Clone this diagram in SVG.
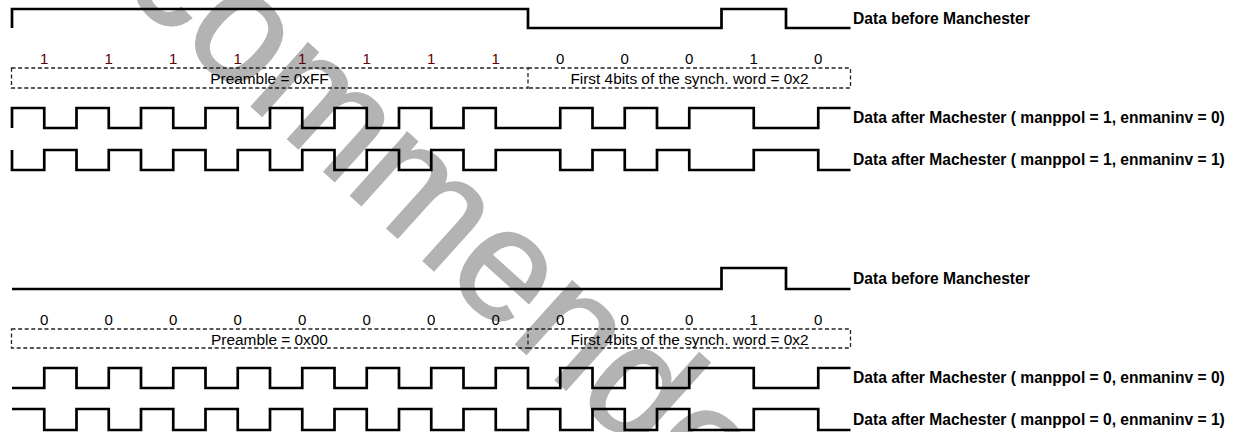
<svg xmlns="http://www.w3.org/2000/svg" width="1236" height="432" viewBox="0 0 1236 432">
<style>
.wave{fill:none;stroke:#000;stroke-width:2.7;stroke-linejoin:miter}
.box{fill:none;stroke:#222;stroke-width:1.3;stroke-dasharray:4 2.6}
.lbl{font-family:"Liberation Sans",Arial,sans-serif;font-weight:bold;font-size:15.6px;fill:#000}
.txt{font-family:"Liberation Sans",Arial,sans-serif;font-size:15.4px;fill:#000;text-anchor:middle}
.bit{font-family:"Liberation Sans",Arial,sans-serif;font-size:15px;fill:#000;text-anchor:middle}
.bit.r{fill:#600000}
.wm{font-family:"Liberation Sans",Arial,sans-serif;font-size:160px;fill:#b3b3b3;stroke:#b3b3b3;stroke-width:2}
</style>
<rect width="1236" height="432" fill="#fff"/>
<text class="wm" transform="translate(118,-14) rotate(42)">commended</text>

<g id="connectors">
<path class="wave" d="M12,28 V9 H528 V28 H721.5 V9 H786 V28 H850.5"/>
<path class="wave" d="M12,128 V108 H44.25 V128 H76.5 V108 H108.75 V128 H141 V108 H173.25 V128 H205.5 V108 H237.75 V128 H270 V108 H302.25 V128 H334.5 V108 H366.75 V128 H399 V108 H431.25 V128 H463.5 V108 H495.75 V128 H560.25 V108 H592.5 V128 H624.75 V108 H657 V128 H689.25 V108 H753.75 V128 H818.25 V108 H850.5"/>
<path class="wave" d="M12,150 V170 H44.25 V150 H76.5 V170 H108.75 V150 H141 V170 H173.25 V150 H205.5 V170 H237.75 V150 H270 V170 H302.25 V150 H334.5 V170 H366.75 V150 H399 V170 H431.25 V150 H463.5 V170 H495.75 V150 H560.25 V170 H592.5 V150 H624.75 V170 H657 V150 H689.25 V170 H753.75 V150 H818.25 V170 H850.5"/>
<path class="wave" d="M12,289 H721.5 V268 H786 V289 H850.5"/>
<path class="wave" d="M12,388 H44.25 V368 H76.5 V388 H108.75 V368 H141 V388 H173.25 V368 H205.5 V388 H237.75 V368 H270 V388 H302.25 V368 H334.5 V388 H366.75 V368 H399 V388 H431.25 V368 H463.5 V388 H495.75 V368 H528 V388 H560.25 V368 H592.5 V388 H624.75 V368 H657 V388 H689.25 V368 H753.75 V388 H818.25 V368 H850.5"/>
<path class="wave" d="M12,409 H44.25 V430 H76.5 V409 H108.75 V430 H141 V409 H173.25 V430 H205.5 V409 H237.75 V430 H270 V409 H302.25 V430 H334.5 V409 H366.75 V430 H399 V409 H431.25 V430 H463.5 V409 H495.75 V430 H528 V409 H560.25 V430 H592.5 V409 H624.75 V430 H657 V409 H689.25 V430 H753.75 V409 H818.25 V430 H850.5"/>
</g>

<g id="top-bits">
<text class="bit r" x="44.25" y="64">1</text>
<text class="bit r" x="108.75" y="64">1</text>
<text class="bit r" x="173.25" y="64">1</text>
<text class="bit r" x="237.75" y="64">1</text>
<text class="bit r" x="302.25" y="64">1</text>
<text class="bit r" x="366.75" y="64">1</text>
<text class="bit r" x="431.25" y="64">1</text>
<text class="bit r" x="495.75" y="64">1</text>
<text class="bit" x="560.25" y="64">0</text>
<text class="bit" x="624.75" y="64">0</text>
<text class="bit" x="689.25" y="64">0</text>
<text class="bit" x="753.75" y="64">1</text>
<text class="bit" x="818.25" y="64">0</text>
</g>
<g id="top-preamble">
<path class="box" d="M11.5,68 H528 V88 H11.5 Z"/>
<text class="txt" x="269.5" y="83.5">Preamble = 0xFF</text>
</g>
<g id="top-sync">
<path class="box" d="M528,68 H850.5 V88 H528"/>
<text class="txt" x="689.5" y="83.5">First 4bits of the synch. word = 0x2</text>
</g>
<g id="top-labels">
<text class="lbl" x="853" y="24">Data before Manchester</text>
<text class="lbl" x="853" y="123">Data after Machester ( manppol = 1, enmaninv = 0)</text>
<text class="lbl" x="853" y="165">Data after Machester ( manppol = 1, enmaninv = 1)</text>
</g>

<g id="bottom-bits">
<text class="bit" x="44.25" y="325">0</text>
<text class="bit" x="108.75" y="325">0</text>
<text class="bit" x="173.25" y="325">0</text>
<text class="bit" x="237.75" y="325">0</text>
<text class="bit" x="302.25" y="325">0</text>
<text class="bit" x="366.75" y="325">0</text>
<text class="bit" x="431.25" y="325">0</text>
<text class="bit" x="495.75" y="325">0</text>
<text class="bit" x="560.25" y="325">0</text>
<text class="bit" x="624.75" y="325">0</text>
<text class="bit" x="689.25" y="325">0</text>
<text class="bit" x="753.75" y="325">1</text>
<text class="bit" x="818.25" y="325">0</text>
</g>
<g id="bottom-preamble">
<path class="box" d="M11.5,329 H528 V348 H11.5 Z"/>
<text class="txt" x="269.5" y="344.5">Preamble = 0x00</text>
</g>
<g id="bottom-sync">
<path class="box" d="M528,329 H850.5 V348 H528"/>
<text class="txt" x="689.5" y="344.5">First 4bits of the synch. word = 0x2</text>
</g>
<g id="bottom-labels">
<text class="lbl" x="853" y="283.5">Data before Manchester</text>
<text class="lbl" x="853" y="383">Data after Machester ( manppol = 0, enmaninv = 0)</text>
<text class="lbl" x="853" y="425">Data after Machester ( manppol = 0, enmaninv = 1)</text>
</g>
</svg>
